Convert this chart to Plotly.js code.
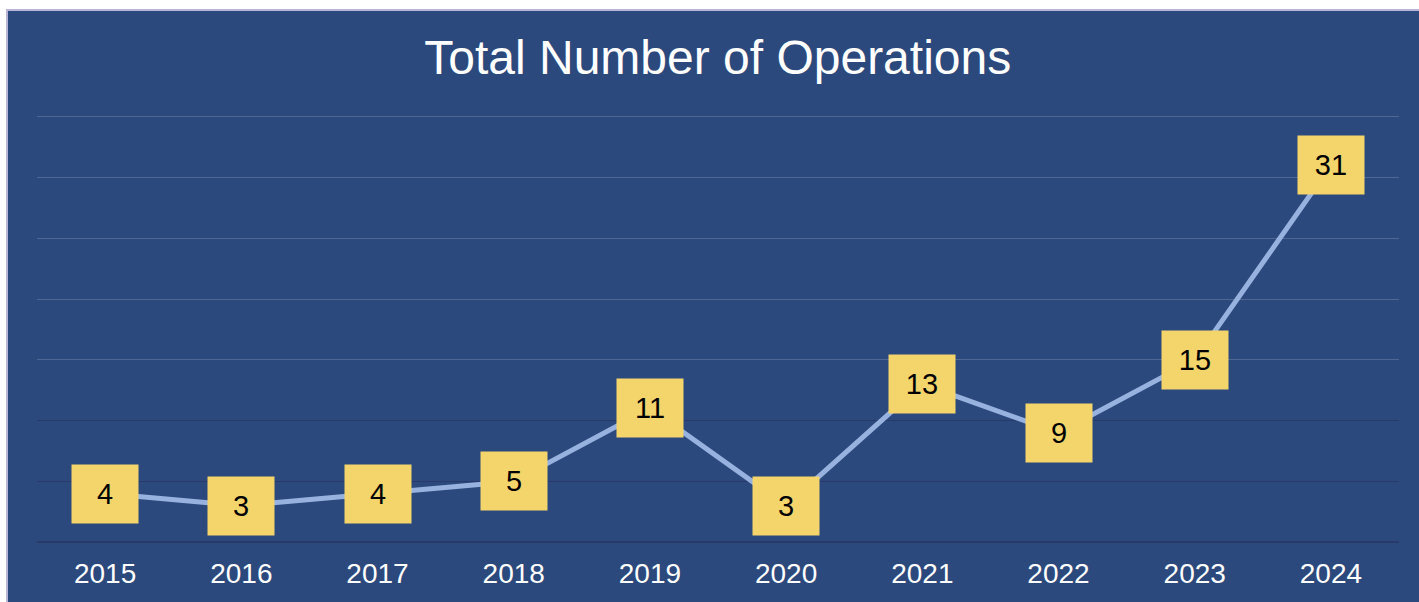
<!DOCTYPE html>
<html>
<head>
<meta charset="utf-8">
<script src="https://cdn.plot.ly/plotly-3.0.1.min.js"></script>
<style>
  html, body { margin: 0; padding: 0; background: #ffffff; }
  #ops_plot {
    position: absolute; left: 6px; top: 9px;
    width: 1413px; height: 593px;
    border-left: 2px solid #b9b5da; border-top: 2px solid #b9b5da;
    box-sizing: border-box;
  }
</style>
</head>
<body>
<div id="ops_plot"></div>
<script>
var years = ['2015', '2016', '2017', '2018', '2019', '2020', '2021', '2022', '2023', '2024'];
var operations = [4, 3, 4, 5, 11, 3, 13, 9, 15, 31];
var upperGrid = [15, 20, 25, 30, 35];
var lowerGrid = [0, 5, 10];

var FONT = 'Liberation Sans, Arial, Helvetica, sans-serif';

var trace = {
    x: years,
    y: operations,
    type: 'scatter',
    mode: 'lines',
    line: {color: '#98b2e0', width: 5},
    hoverinfo: 'skip'
};

// empty trace on a second axis, only there for the darker lower gridlines
var gridHelper = {
    x: years,
    y: operations,
    yaxis: 'y2',
    type: 'scatter',
    mode: 'none',
    hoverinfo: 'skip',
    showlegend: false
};

// yellow value boxes; x is the category index so '2015' is not read as a number
var labels = operations.map(function (v, i) {
    return {
        xref: 'x',
        yref: 'y',
        x: i,
        y: v,
        text: String(v),
        showarrow: false,
        bgcolor: '#f3d56b',
        width: 64,
        height: 56,
        borderpad: 1,
        valign: 'middle',
        font: {family: FONT, size: 29, color: '#000000'}
    };
});

// a little slack at both ends, plotly drops gridlines sitting on the plot edge
var yRange = [-0.15, 35.15];

var layout = {
    width: 1411,
    height: 591,
    paper_bgcolor: '#2c497d',
    plot_bgcolor: '#2c497d',
    showlegend: false,
    margin: {l: 29, r: 20, t: 104, b: 58},
    title: {
        text: 'Total Number of Operations',
        font: {family: FONT, size: 48, color: '#ffffff'},
        x: 0.503,
        xanchor: 'center',
        y: 0.922,
        yanchor: 'middle'
    },
    xaxis: {
        type: 'category',
        range: [-0.5, 9.5],
        showgrid: false,
        zeroline: false,
        showline: false,
        ticks: '',
        ticklabelstandoff: 10,
        tickfont: {family: FONT, size: 28, color: '#ffffff'}
    },
    yaxis: {
        range: yRange,
        tickmode: 'array',
        tickvals: upperGrid,
        showticklabels: false,
        gridcolor: '#506794',
        gridwidth: 1,
        zeroline: false,
        showline: false,
        fixedrange: true
    },
    yaxis2: {
        range: yRange,
        overlaying: 'y',
        tickmode: 'array',
        tickvals: lowerGrid,
        showticklabels: false,
        gridcolor: '#28396a',
        gridwidth: 1.5,
        zeroline: false,
        showline: false,
        fixedrange: true
    },
    annotations: labels
};

Plotly.newPlot('ops_plot', [gridHelper, trace], layout, {displayModeBar: false, staticPlot: true});
</script>
</body>
</html>
